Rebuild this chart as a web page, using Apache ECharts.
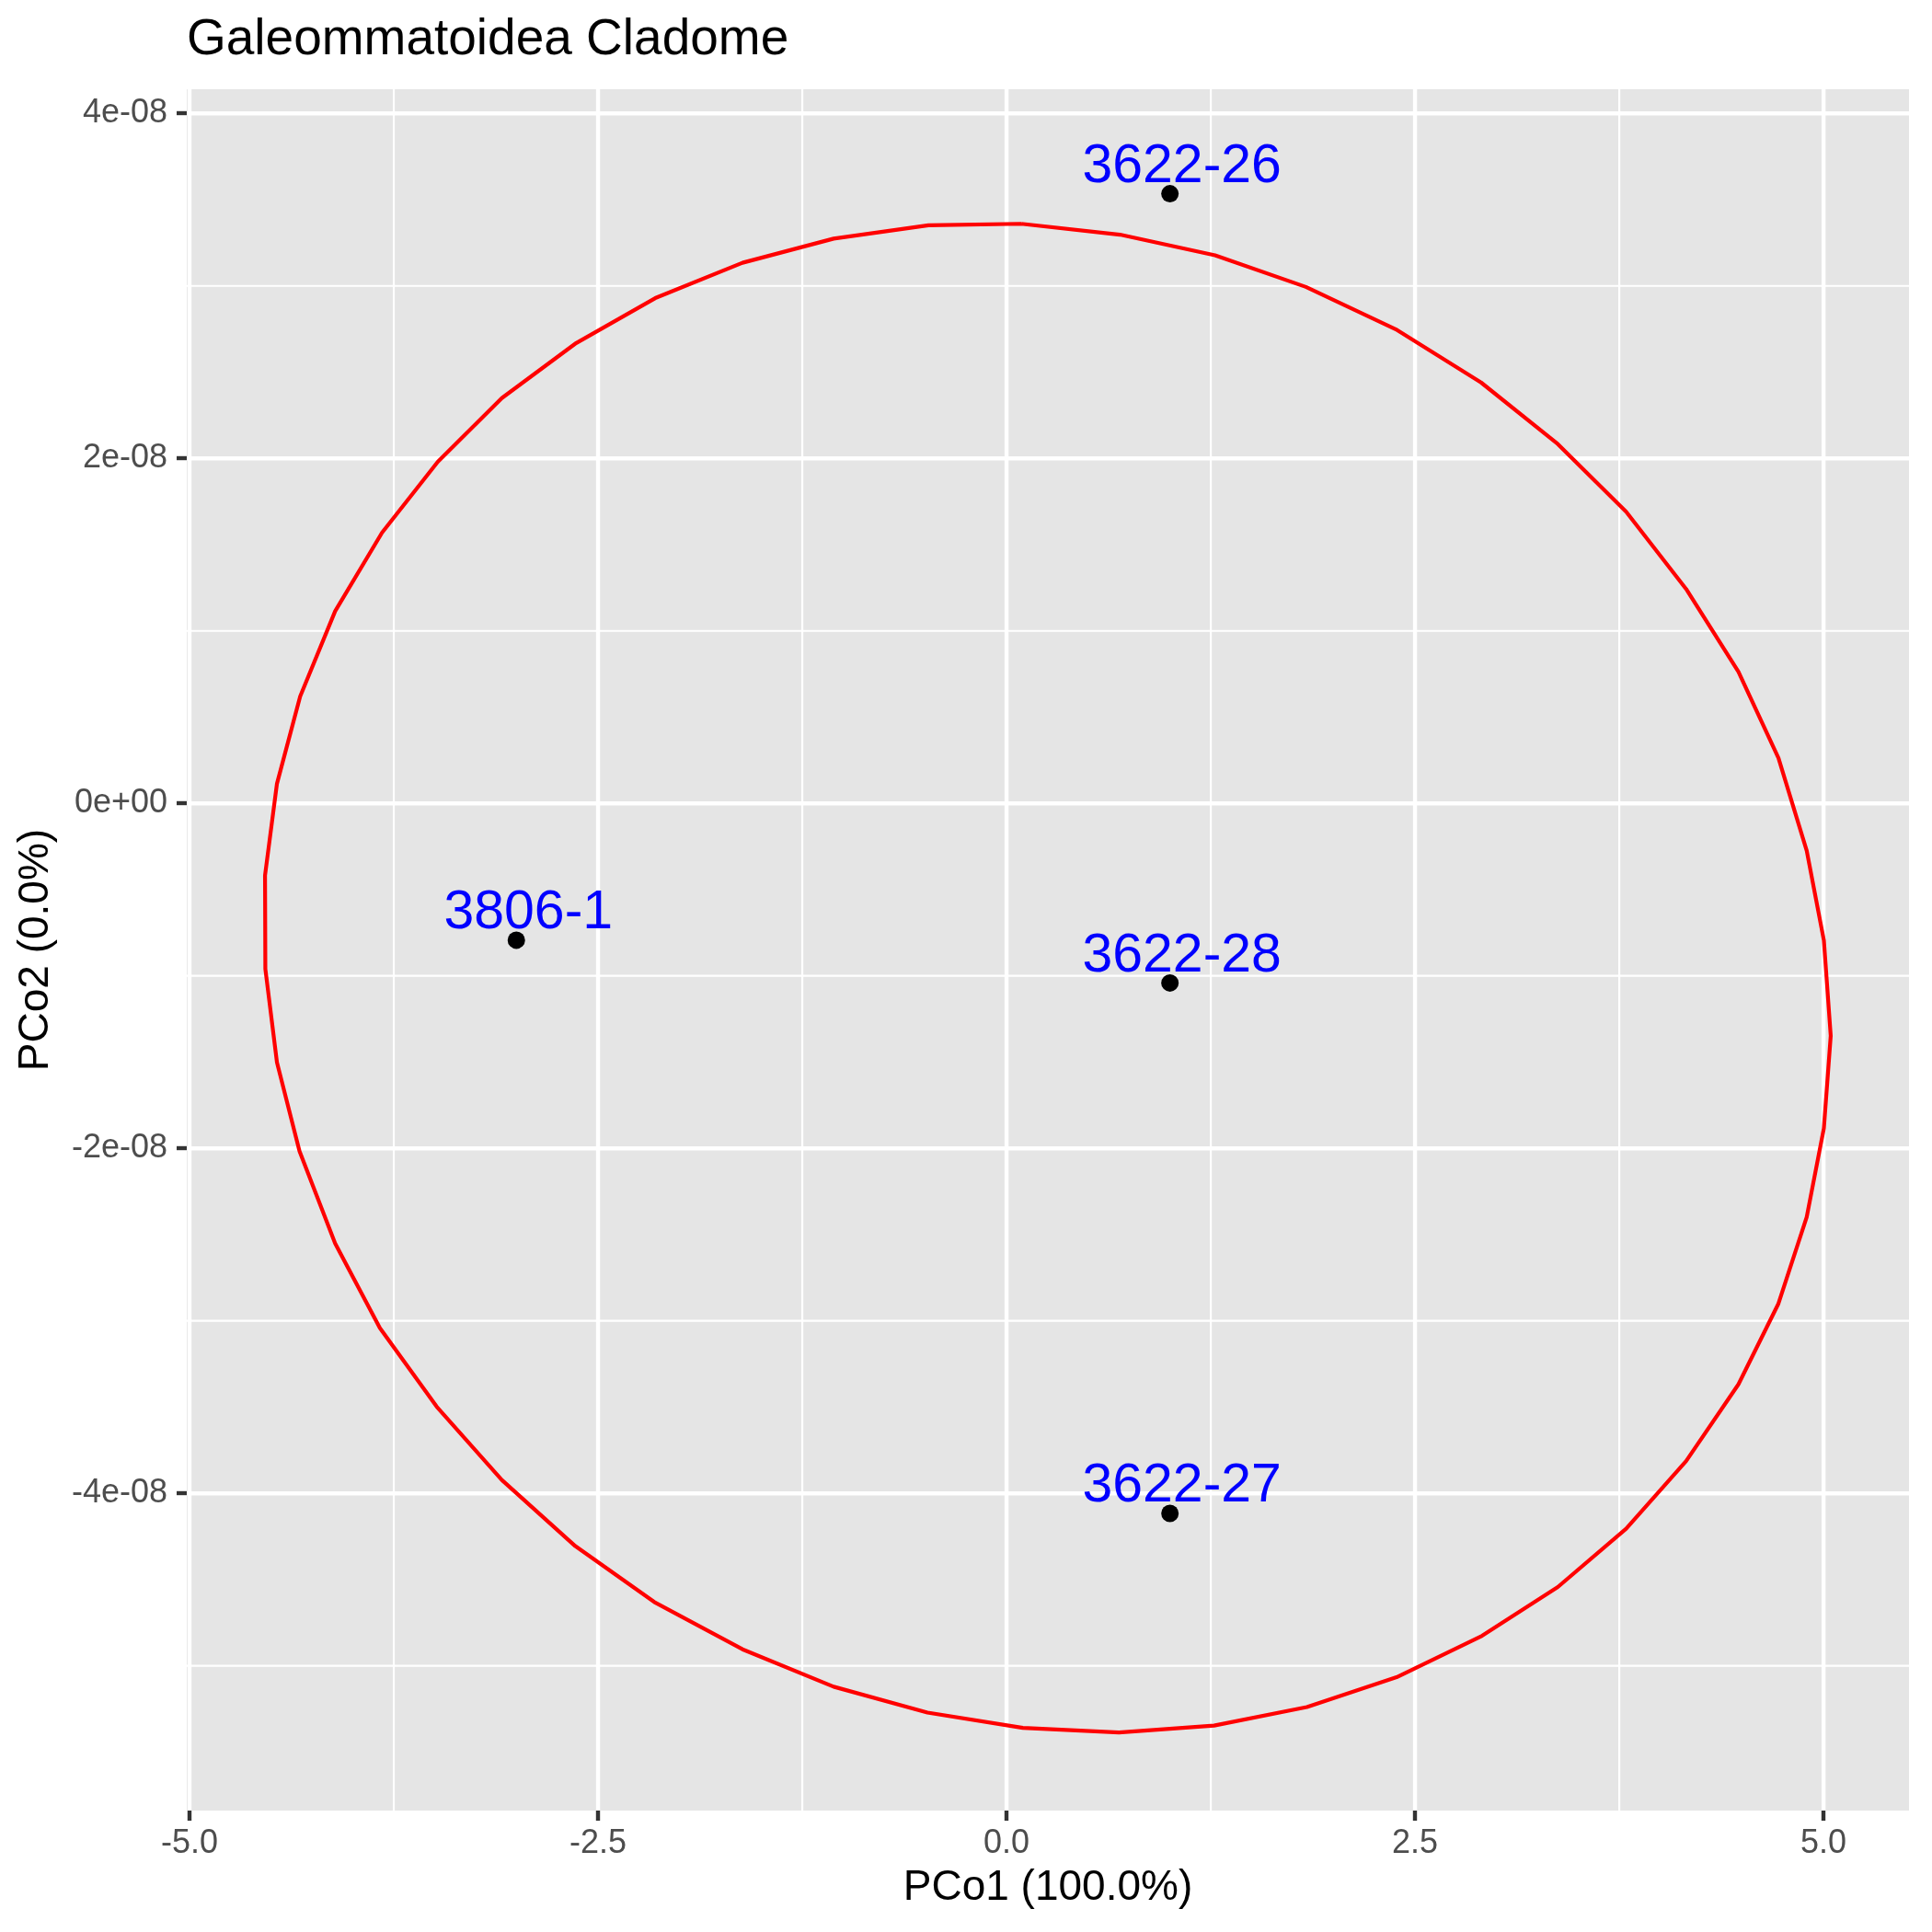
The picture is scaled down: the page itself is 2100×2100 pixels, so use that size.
<!DOCTYPE html>
<html>
<head>
<meta charset="utf-8">
<script src="https://cdn.jsdelivr.net/npm/echarts@6/dist/echarts.min.js"></script>
<style>
  html, body { margin: 0; padding: 0; background: #ffffff; }
  #chart { width: 2100px; height: 2100px; }
</style>
</head>
<body>
<div id="chart"></div>
<script>
// ---- data ----
const sampleNames = ['3622-26', '3806-1', '3622-28', '3622-27'];
const pco1 = [1.0, -3.0, 1.0, 1.0];
const pco2 = [3.534e-8, -0.793e-8, -1.041e-8, -4.116e-8];

const ellipseX = [0.09, 0.694, 1.276, 1.832, 2.381, 2.904, 3.374, 3.792, 4.159, 4.479, 4.724, 4.897, 5.002,
  5.044, 5.002, 4.897, 4.724, 4.479, 4.159, 3.792, 3.374, 2.91, 2.387, 1.838, 1.270, 0.688, 0.1,
  -0.484, -1.058, -1.616, -2.156, -2.639, -3.089, -3.487, -3.835, -4.109, -4.327, -4.465, -4.536,
  -4.538, -4.465, -4.323, -4.109, -3.822, -3.481, -3.089, -2.633, -2.150, -1.616, -1.058, -0.478];
const ellipseY = [3.36e-8, 3.297e-8, 3.177e-8, 2.994e-8, 2.749e-8, 2.44e-8, 2.083e-8, 1.691e-8, 1.243e-8,
  0.763e-8, 0.263e-8, -0.274e-8, -0.794e-8, -1.347e-8, -1.884e-8, -2.398e-8, -2.9e-8, -3.368e-8,
  -3.813e-8, -4.205e-8, -4.543e-8, -4.826e-8, -5.066e-8, -5.239e-8, -5.346e-8, -5.386e-8, -5.36e-8,
  -5.271e-8, -5.121e-8, -4.904e-8, -4.630e-8, -4.306e-8, -3.922e-8, -3.498e-8, -3.042e-8, -2.551e-8,
  -2.016e-8, -1.502e-8, -0.96e-8, -0.417e-8, 0.114e-8, 0.62e-8, 1.114e-8, 1.569e-8, 1.98e-8,
  2.349e-8, 2.669e-8, 2.929e-8, 3.134e-8, 3.274e-8, 3.351e-8];

const xTickValues = [-5, -2.5, 0, 2.5, 5];
const xTickLabels = ['-5.0', '-2.5', '0.0', '2.5', '5.0'];
const xMinorValues = [-3.75, -1.25, 1.25, 3.75];
const yTickValues = [-4e-8, -2e-8, 0, 2e-8, 4e-8];
const yTickLabels = ['-4e-08', '-2e-08', '0e+00', '2e-08', '4e-08'];
const yMinorValues = [-5e-8, -3e-8, -1e-8, 1e-8, 3e-8];

const titleText = 'Galeommatoidea Cladome';
const xTitle = 'PCo1 (100.0%)';
const yTitle = 'PCo2 (0.0%)';

// ---- build ----
const FONT = "'Liberation Sans', Arial, Helvetica, sans-serif";
const X_MIN = -5.017, X_MAX = 5.523;
const Y_MIN = -5.839e-8, Y_MAX = 4.14e-8;

function lookup(values, labels, v) {
  let best = 0, bd = Infinity;
  values.forEach((t, i) => { const d = Math.abs(t - v); if (d < bd) { bd = d; best = i; } });
  return labels[best];
}

const ellipseData = ellipseX.map((x, i) => [x, ellipseY[i]]);
ellipseData.push([ellipseX[0], ellipseY[0]]);

const pointData = pco1.map((x, i) => ({ name: sampleNames[i], value: [x, pco2[i]] }));

function gridSeries(v, isX, width) {
  return {
    type: 'line', z: 1, silent: true, showSymbol: false, animation: false,
    data: isX ? [[v, Y_MIN], [v, Y_MAX]] : [[X_MIN, v], [X_MAX, v]],
    lineStyle: { color: '#FFFFFF', width: width }
  };
}
const gridSeriesList = []
  .concat(xMinorValues.map(v => gridSeries(v, true, 2.2)))
  .concat(yMinorValues.map(v => gridSeries(v, false, 2.2)))
  .concat(xTickValues.map(v => gridSeries(v, true, 4.4)))
  .concat(yTickValues.map(v => gridSeries(v, false, 4.4)));

const chart = echarts.init(document.getElementById('chart'), null, { renderer: 'canvas' });
chart.setOption({
  animation: false,
  backgroundColor: '#ffffff',
  title: {
    text: titleText,
    left: 203, top: 16, padding: 0,
    textStyle: { fontFamily: FONT, fontSize: 55, fontWeight: 'normal', color: '#000000' }
  },
  grid: {
    left: 203, right: 25, top: 97, bottom: 132,
    show: true, backgroundColor: '#E5E5E5', borderWidth: 0
  },
  xAxis: {
    type: 'value', min: X_MIN, max: X_MAX,
    name: xTitle, nameLocation: 'middle', nameGap: 61,
    nameTextStyle: { fontFamily: FONT, fontSize: 46, color: '#000000' },
    axisLine: { show: false, onZero: false },
    splitLine: { show: false },
    axisTick: { show: true, customValues: xTickValues, length: 11, lineStyle: { color: '#333333', width: 4.4 } },
    axisLabel: {
      customValues: xTickValues, margin: 18,
      fontFamily: FONT, fontSize: 36, color: '#4D4D4D',
      formatter: v => lookup(xTickValues, xTickLabels, v)
    }
  },
  yAxis: {
    type: 'value', min: Y_MIN, max: Y_MAX,
    name: yTitle, nameLocation: 'middle', nameGap: 141,
    nameTextStyle: { fontFamily: FONT, fontSize: 46, color: '#000000' },
    axisLine: { show: false, onZero: false },
    splitLine: { show: false },
    axisTick: { show: true, customValues: yTickValues, length: 11, lineStyle: { color: '#333333', width: 4.4 } },
    axisLabel: {
      customValues: yTickValues, margin: 21,
      fontFamily: FONT, fontSize: 36, color: '#4D4D4D',
      formatter: v => lookup(yTickValues, yTickLabels, v)
    }
  },
  series: gridSeriesList.concat([
    {
      type: 'line', data: ellipseData, z: 2, showSymbol: false, smooth: false,
      lineStyle: { color: '#FF0000', width: 4.2 }, silent: true
    },
    {
      type: 'scatter', data: pointData, z: 3, symbol: 'circle', symbolSize: 0, silent: true,
      itemStyle: { opacity: 1 },
      labelLayout: { hideOverlap: false },
      label: {
        show: true, position: [13, -29], align: 'center', verticalAlign: 'middle', formatter: '{b}',
        fontFamily: FONT, fontSize: 59, color: '#0000FF', overflow: 'none'
      }
    },
    {
      type: 'scatter', data: pointData, z: 4, symbol: 'circle', symbolSize: 19, silent: true,
      itemStyle: { color: '#000000', opacity: 1 }
    }
  ])
});
</script>
</body>
</html>
